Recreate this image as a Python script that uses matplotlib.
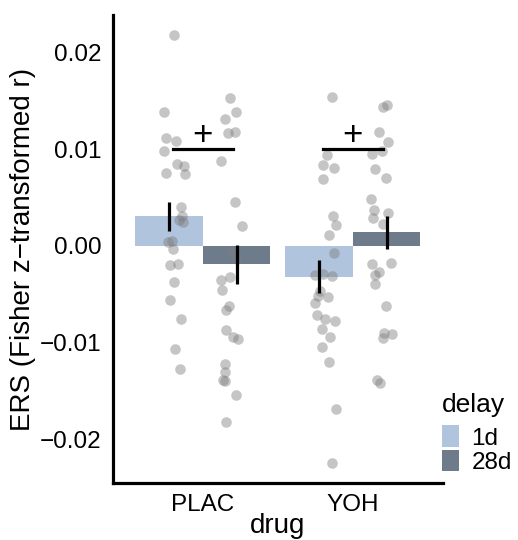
import matplotlib
matplotlib.use("Agg")
import matplotlib.pyplot as plt
from matplotlib.patches import Patch
import numpy as np

plt.rcParams['font.family'] = ['Liberation Sans', 'DejaVu Sans']

# groups
drugs = ["PLAC", "YOH"]
delays = ["1d", "28d"]
delay_colors = ["#B0C4DE", "#6E7B8B"]

# bar means and standard errors, [drug][delay]
bar_means = [[0.0031, -0.0019], [-0.0032, 0.0014]]
bar_se = [[0.0015, 0.0020], [0.0017, 0.0017]]

# single subject values, with their jittered x
plac_1d_x = [0.809, 0.740, 0.751, 0.820, 0.740, 0.825, 0.873, 0.755, 0.882, 0.851,
             0.858, 0.842, 0.869, 0.769, 0.791, 0.802, 0.780, 0.835, 0.807, 0.780,
             0.853, 0.815, 0.849]
plac_1d_y = [0.0218, 0.0139, 0.0112, 0.0109, 0.0098, 0.0085, 0.0083, 0.0075, 0.0074, 0.0040,
             0.0031, 0.0027, 0.0025, 0.0004, 0.0005, -0.0003, -0.0020, -0.0019, -0.0037, -0.0056,
             -0.0075, -0.0107, -0.0127]
plac_28d_x = [1.182, 1.218, 1.149, 1.167, 1.211, 1.120, 1.215, 1.258, 1.195, 1.225,
              1.118, 1.182, 1.127, 1.173, 1.155, 1.153, 1.202, 1.231, 1.145, 1.147,
              1.135, 1.147, 1.218, 1.151]
plac_28d_y = [0.0153, 0.0139, 0.0131, 0.0117, 0.0118, 0.0088, 0.0045, 0.0021, -0.0006, -0.0013,
              -0.0035, -0.0032, -0.0045, -0.0062, -0.0066, -0.0087, -0.0094, -0.0096, -0.0122, -0.0130,
              -0.0139, -0.0140, -0.0154, -0.0182]
yoh_1d_x = [1.862, 1.829, 1.798, 1.873, 1.798, 1.869, 1.887, 1.842, 1.877, 1.747,
            1.802, 1.858, 1.780, 1.769, 1.835, 1.747, 1.758, 1.815, 1.882, 1.793,
            1.849, 1.795, 1.838, 1.887, 1.860]
yoh_1d_y = [0.0154, 0.0094, 0.0084, 0.0081, 0.0069, 0.0031, 0.0022, 0.0011, -0.0007, -0.0030,
            -0.0029, -0.0031, -0.0047, -0.0052, -0.0053, -0.0059, -0.0071, -0.0075, -0.0078, -0.0086,
            -0.0094, -0.0104, -0.0120, -0.0169, -0.0224]
yoh_28d_x = [2.202, 2.229, 2.175, 2.235, 2.191, 2.125, 2.149, 2.222, 2.118, 2.140,
             2.131, 2.235, 2.202, 2.125, 2.251, 2.173, 2.147, 2.147, 2.220, 2.207,
             2.258, 2.202, 2.162, 2.180]
yoh_28d_y = [0.0144, 0.0146, 0.0118, 0.0108, 0.0098, 0.0095, 0.0080, 0.0070, 0.0049, 0.0037,
             0.0029, 0.0034, 0.0023, -0.0019, -0.0018, -0.0027, -0.0030, -0.0039, -0.0062, -0.0090,
             -0.0091, -0.0095, -0.0139, -0.0142]

# significance marks
sig_level = 0.0100
sig_label = "+"

fig = plt.figure(figsize=(5.18, 5.40), dpi=100)
ax = fig.add_axes([0.218, 0.1056, 0.637, 0.8666])

width = 0.45
for i, drug in enumerate(drugs):
    for j, delay in enumerate(delays):
        xc = i + 1 + (j - 0.5) * width
        ax.bar(xc, bar_means[i][j], width=width, color=delay_colors[j], zorder=1)

all_x = plac_1d_x + plac_28d_x + yoh_1d_x + yoh_28d_x
all_y = plac_1d_y + plac_28d_y + yoh_1d_y + yoh_28d_y
ax.scatter(all_x, all_y, s=58, color="#7f7f7f", alpha=0.45, linewidths=0, zorder=2)

for i, drug in enumerate(drugs):
    for j, delay in enumerate(delays):
        xc = i + 1 + (j - 0.5) * width
        m, se = bar_means[i][j], bar_se[i][j]
        ax.plot([xc, xc], [m - se, m + se], color="black", lw=2.3, zorder=3,
                solid_capstyle="butt")

for i, drug in enumerate(drugs):
    ax.plot([i + 0.8, i + 1.2], [sig_level, sig_level], color="black", lw=2.3, zorder=3)
    ax.text(i + 1, sig_level + 0.0014, sig_label, ha="center", va="center",
            fontsize=25, zorder=3)

ax.set_xlim(0.4, 2.6)
ax.set_ylim(-0.02451, 0.02389)
ax.set_xticks([1, 2])
ax.set_xticklabels(drugs)
ax.set_yticks([-0.02, -0.01, 0.0, 0.01, 0.02])
ax.set_yticklabels(["\u22120.02", "\u22120.01", "0.00", "0.01", "0.02"])
ax.tick_params(length=0, labelsize=17.5, colors="black", pad=8)
ax.spines["top"].set_visible(False)
ax.spines["right"].set_visible(False)
ax.spines["left"].set_linewidth(2.3)
ax.spines["bottom"].set_linewidth(2.3)
ax.set_ylabel("ERS (Fisher z\u2212transformed r)", fontsize=20, labelpad=3)
ax.set_xlabel("drug", fontsize=20, labelpad=-2)

handles = [Patch(facecolor=c, edgecolor="none") for c in delay_colors]
leg = fig.legend(handles, delays, title="delay", loc="upper left",
                 bbox_to_anchor=(0.835, 0.290), frameon=False, fontsize=17.5,
                 title_fontsize=19, handlelength=0.7, handleheight=0.98,
                 handletextpad=0.5, labelspacing=0.0, borderaxespad=0)
leg._legend_box.align = "left"
leg._legend_box.sep = 6

fig.savefig("out.png", dpi=100)
